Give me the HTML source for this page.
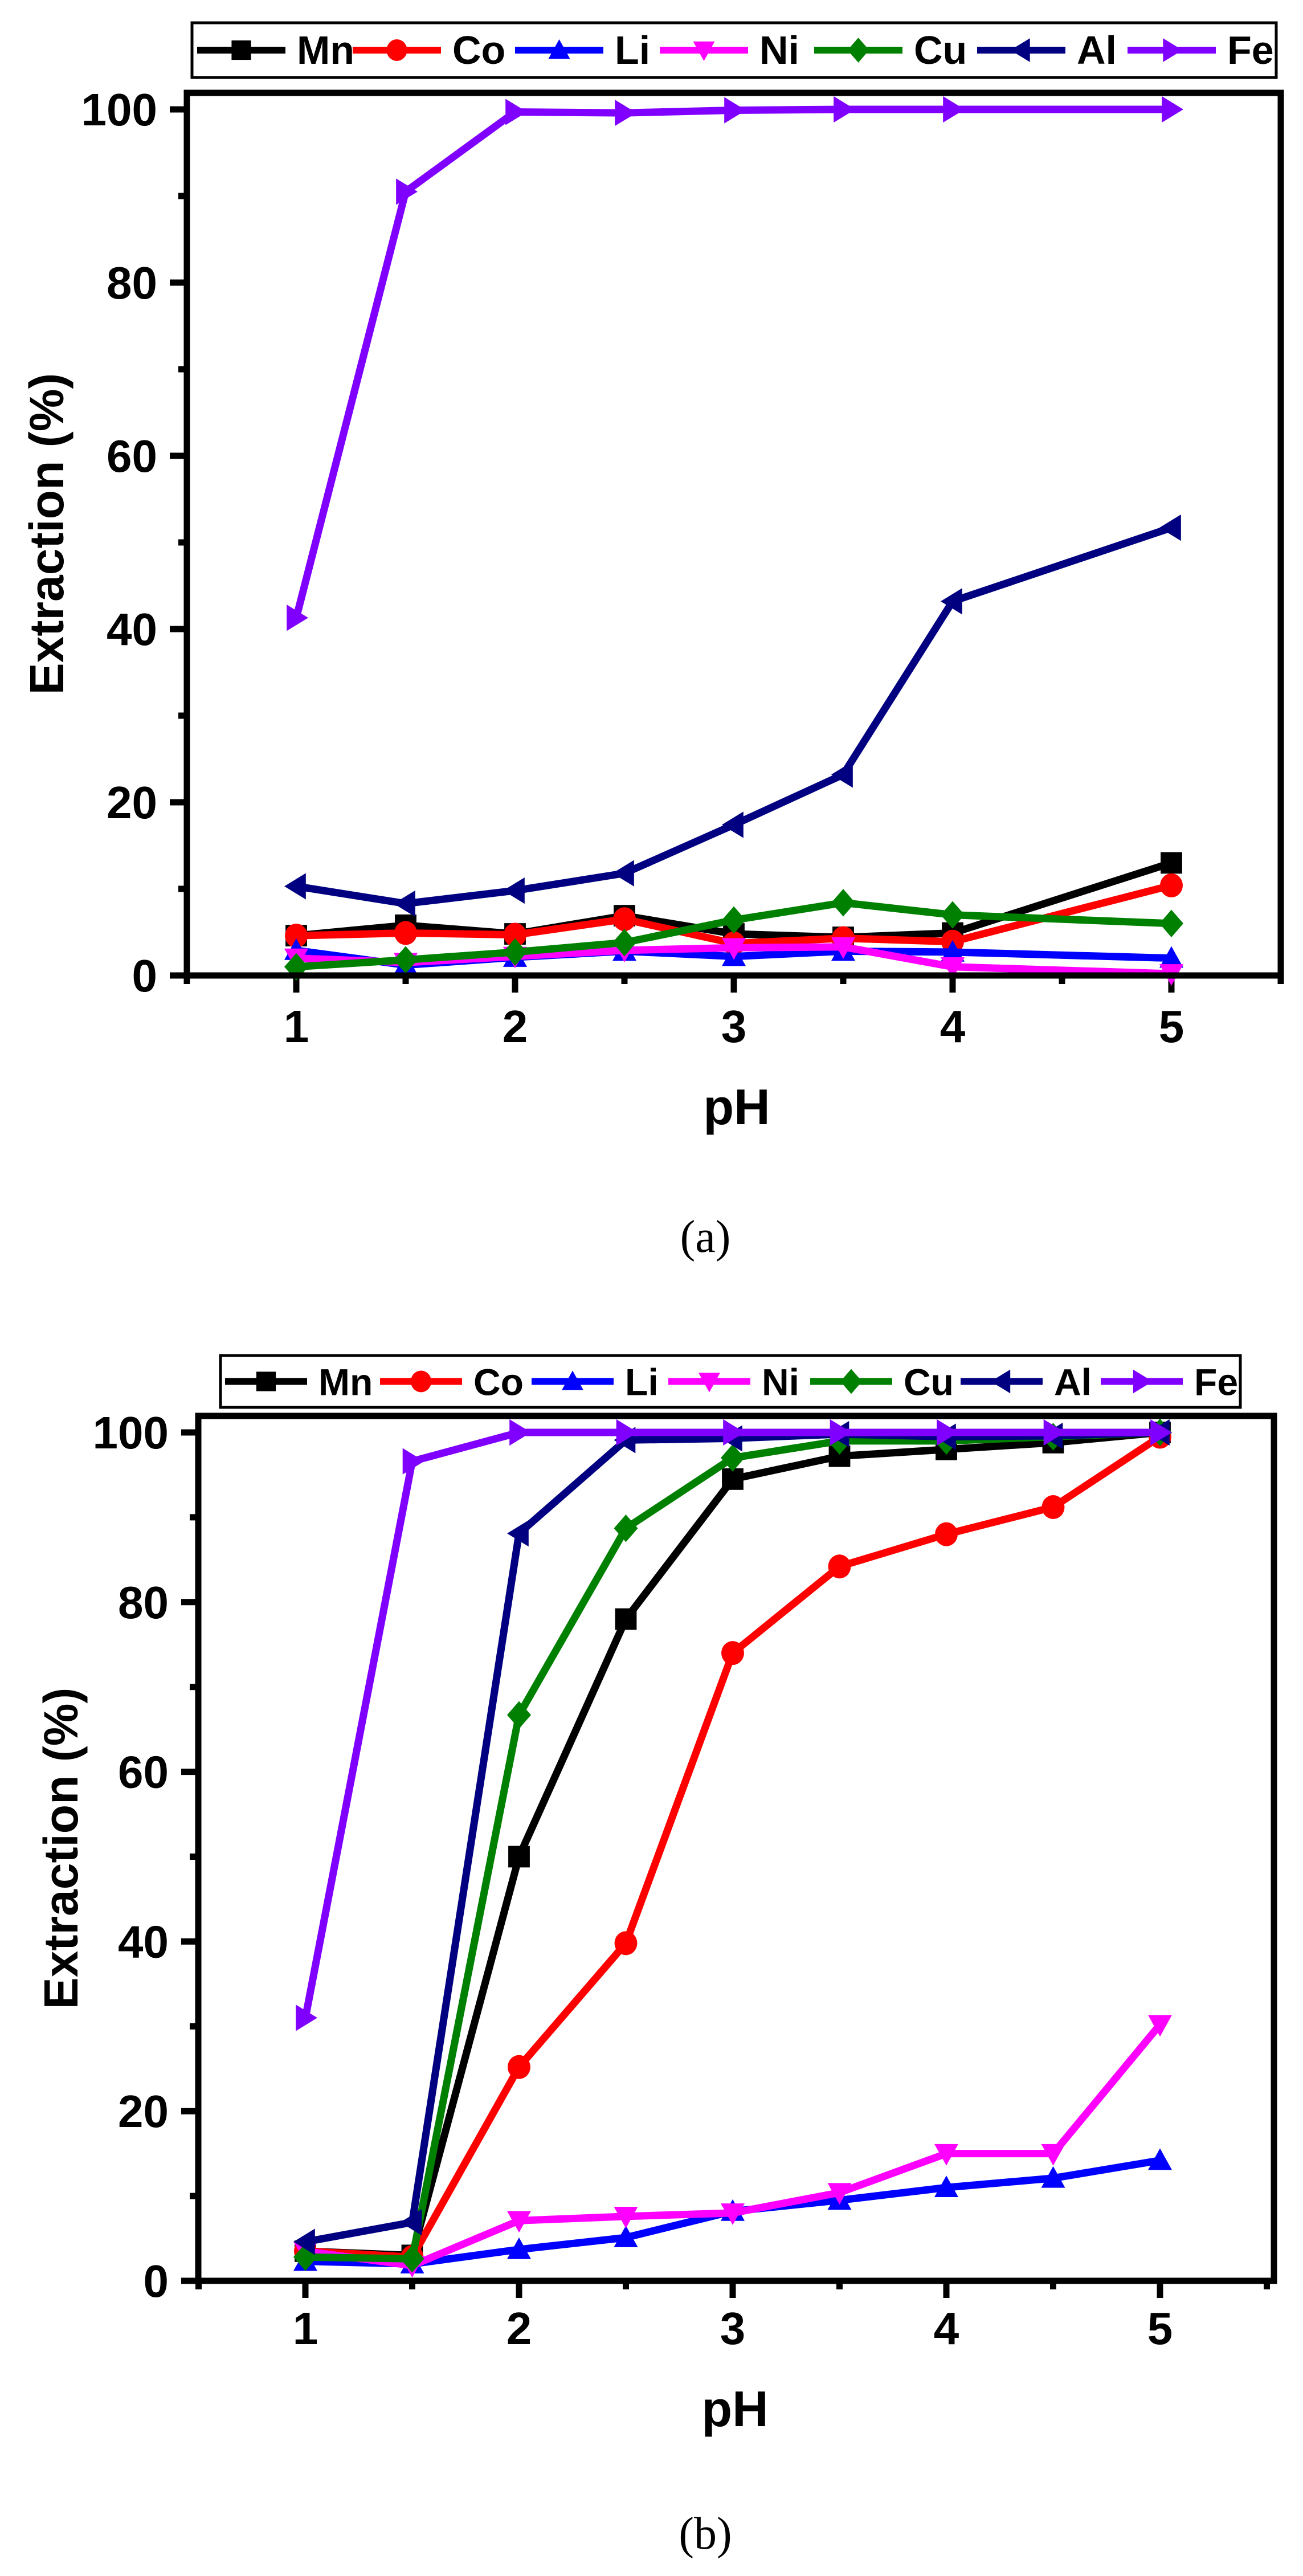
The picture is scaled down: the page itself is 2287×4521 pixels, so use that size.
<!DOCTYPE html>
<html><head><meta charset="utf-8"><style>
html,body{margin:0;padding:0;background:#fff;}
svg{display:block;}
text{font-family:"Liberation Sans",Arial,sans-serif;font-weight:bold;}
</style></head><body>
<svg id="fig" width="2287" height="4521" viewBox="0 0 2287 4521" xmlns="http://www.w3.org/2000/svg">
<rect width="2287" height="4521" fill="#fff"/>
</svg>
<script>
// ---- data panel (a) ----
const xA = [1, 1.5, 2, 2.5, 3, 3.5, 4, 5];
const mnA = [4.6, 5.8, 4.8, 6.9, 4.8, 4.4, 4.9, 13.0];
const coA = [4.6, 4.9, 4.7, 6.5, 3.7, 4.3, 3.9, 10.4];
const liA = [2.9, 1.2, 2.1, 2.8, 2.2, 2.8, 2.7, 2.0];
const niA = [2.0, 1.5, 2.2, 2.9, 3.2, 3.3, 1.0, 0.2];
const cuA = [1.0, 1.8, 2.7, 3.8, 6.4, 8.4, 7.0, 6.0];
const alA = [10.3, 8.3, 9.8, 11.8, 17.4, 23.2, 43.2, 51.7];
const feA = [41.3, 90.5, 99.7, 99.6, 99.9, 100, 100, 100];
// ---- data panel (b) ----
const xB = [1, 1.5, 2, 2.5, 3, 3.5, 4, 4.5, 5];
const mnB = [3.5, 3.0, 50, 78, 94.5, 97.2, 98, 98.8, 100];
const coB = [3.5, 2.8, 25.2, 39.8, 74, 84.2, 88, 91.2, 99.5];
const liB = [2.3, 2.0, 3.7, 5.1, 8.2, 9.5, 11, 12.1, 14.2];
const niB = [3.5, 1.8, 7.1, 7.6, 8.0, 10.4, 15, 15, 30.2];
const cuB = [2.8, 2.6, 66.7, 88.7, 97, 99, 99, 99.5, 100];
const alB = [4.6, 6.9, 88.1, 99.1, 99.3, 99.8, 99.5, 99.6, 100];
const feB = [31, 96.6, 100, 100, 100, 100, 100, 100, 100];
const seriesNames = ["Mn", "Co", "Li", "Ni", "Cu", "Al", "Fe"];
const yTicks = [0, 20, 40, 60, 80, 100];
const xTicks = [1, 2, 3, 4, 5];

const colors = {Mn:"#000000",Co:"#ff0000",Li:"#0000ff",Ni:"#ff00ff",Cu:"#008000",Al:"#000080",Fe:"#8000ff"};
const shapes = {Mn:"square",Co:"circle",Li:"up",Ni:"down",Cu:"diamond",Al:"left",Fe:"right"};
const NS = "http://www.w3.org/2000/svg";
const svg = document.getElementById("fig");
function el(tag, attrs, parent){const e=document.createElementNS(NS,tag);for(const k in attrs)e.setAttribute(k,attrs[k]);(parent||svg).appendChild(e);return e;}

function marker(g, shape, cx, cy, s, color){
  const h=s/2; let e;
  if(shape==="square") e=el("rect",{x:cx-h*0.9,y:cy-h*0.9,width:s*0.9,height:s*0.9,fill:color},g);
  else if(shape==="circle") e=el("ellipse",{cx:cx,cy:cy,rx:h*0.95,ry:h,fill:color},g);
  else {
    let p;
    if(shape==="up") p=[[cx,cy-h],[cx+h,cy+h*0.8],[cx-h,cy+h*0.8]];
    else if(shape==="down") p=[[cx,cy+h],[cx+h,cy-h*0.8],[cx-h,cy-h*0.8]];
    else if(shape==="diamond") p=[[cx,cy-h*1.15],[cx+h,cy],[cx,cy+h*1.15],[cx-h,cy]];
    else if(shape==="left") p=[[cx-h,cy],[cx+h*0.8,cy-h*1.1],[cx+h*0.8,cy+h*1.1]];
    else p=[[cx+h,cy],[cx-h*0.8,cy-h*1.1],[cx-h*0.8,cy+h*1.1]];
    e=el("polygon",{points:p.map(q=>q.join(",")).join(" "),fill:color},g);
  }
  return e;
}

function panel(cfg){
  const g=el("g",{});
  
  
  const X=v=>cfg.x1+(v-1)*cfg.px, Y=v=>cfg.y0-v*cfg.py/100;
  for(let v=0; v<=100; v+=10){
    const major=v%20===0;
    const t=el("line",{x1:cfg.left-(major?30:15),x2:cfg.left,y1:Y(v),y2:Y(v),stroke:"#000","stroke-width":11},g);
    
    
  }
  for(let v=0.5; v<=5.5; v+=0.5){
    const major=Number.isInteger(v);
    const t=el("line",{x1:X(v),x2:X(v),y1:cfg.bottom,y2:cfg.bottom+(major?30:15),stroke:"#000","stroke-width":11},g);
    
    
  }
  yTicks.forEach(v=>{
    const t=el("text",{x:cfg.ylabR,y:Y(v)+28,"text-anchor":"end","font-size":80},g);
    t.textContent=v;
    
    
  });
  xTicks.forEach(v=>{
    const t=el("text",{x:X(v),y:cfg.xlabY+29,"text-anchor":"middle","font-size":80},g);
    t.textContent=v;
    
    
  });
  cfg.series.forEach((vals,i)=>{
    const name=seriesNames[i], c=colors[name];
    const sg=el("g",{},g);
    
    
    const pl=el("polyline",{points:vals.map((v,j)=>X(cfg.xs[j])+","+Y(v)).join(" "),fill:"none",stroke:c,"stroke-width":13,"stroke-linejoin":"miter"},sg);
    
    
    vals.forEach((v,j)=>{
      const m=marker(sg,shapes[name],X(cfg.xs[j]),Y(v),42,c);
      
      
    });
  });
  const fr=el("rect",{x:cfg.left,y:cfg.top,width:cfg.right-cfg.left,height:cfg.bottom-cfg.top,fill:"none",stroke:"#000","stroke-width":11},g);
  
  
  const yt=el("text",{x:0,y:0,"text-anchor":"middle","font-size":84,transform:`translate(${cfg.ytX+30},${cfg.ytY}) rotate(-90)`},g);
  yt.textContent="Extraction (%)";
  
  
  const xt=el("text",{x:cfg.xtX,y:cfg.xtY+30,"text-anchor":"middle","font-size":88},g);
  xt.textContent="pH";
  
  
  const cap=el("text",{x:1238,y:cfg.capY+26,"text-anchor":"middle","font-size":80,style:"font-family:'Liberation Serif',serif;font-weight:normal"},g);
  cap.textContent=cfg.cap;
  
  
  const lg=el("g",{},g);
  
  
  el("rect",{x:cfg.lg[0],y:cfg.lg[1],width:cfg.lg[2]-cfg.lg[0],height:cfg.lg[3]-cfg.lg[1],fill:"#fff",stroke:"#000","stroke-width":5},lg);
  const cy=(cfg.lg[1]+cfg.lg[3])/2;
  seriesNames.forEach((name,i)=>{
    const e=el("g",{},lg);
    
    
    const lx=cfg.lgx[i];
    el("line",{x1:lx,x2:lx+cfg.ll,y1:cy,y2:cy,stroke:colors[name],"stroke-width":12},e);
    marker(e,shapes[name],lx+cfg.ll/2,cy,38,colors[name]);
    const t=el("text",{x:lx+cfg.ll+20,y:cy+24,"font-size":cfg.lfs},e);
    t.textContent=name;
  });
}

panel({id:"panel-a",xs:xA,series:[mnA,coA,liA,niA,cuA,alA,feA],
  x1:520,px:384,y0:1712,py:1520,left:328,right:2248,top:163,bottom:1712,
  ylabR:276,xlabY:1800,ytX:81,ytY:937,xtX:1293,xtY:1943,capY:2171,cap:"(a)",
  lg:[337,40,2240,136],lgx:[346,619,904,1158,1429,1715,1979],ll:155,lfs:70});
panel({id:"panel-b",xs:xB,series:[mnB,coB,liB,niB,cuB,alB,feB],
  x1:536,px:375,y0:4003,py:1489,left:348,right:2236,top:2485,bottom:4003,
  ylabR:296,xlabY:4085,ytX:106,ytY:3244,xtX:1290,xtY:4228,capY:4447,cap:"(b)",
  lg:[387,2379,2177,2470],lgx:[395,667,933,1173,1422,1686,1932],ll:144,lfs:66});
</script>
</body></html>
